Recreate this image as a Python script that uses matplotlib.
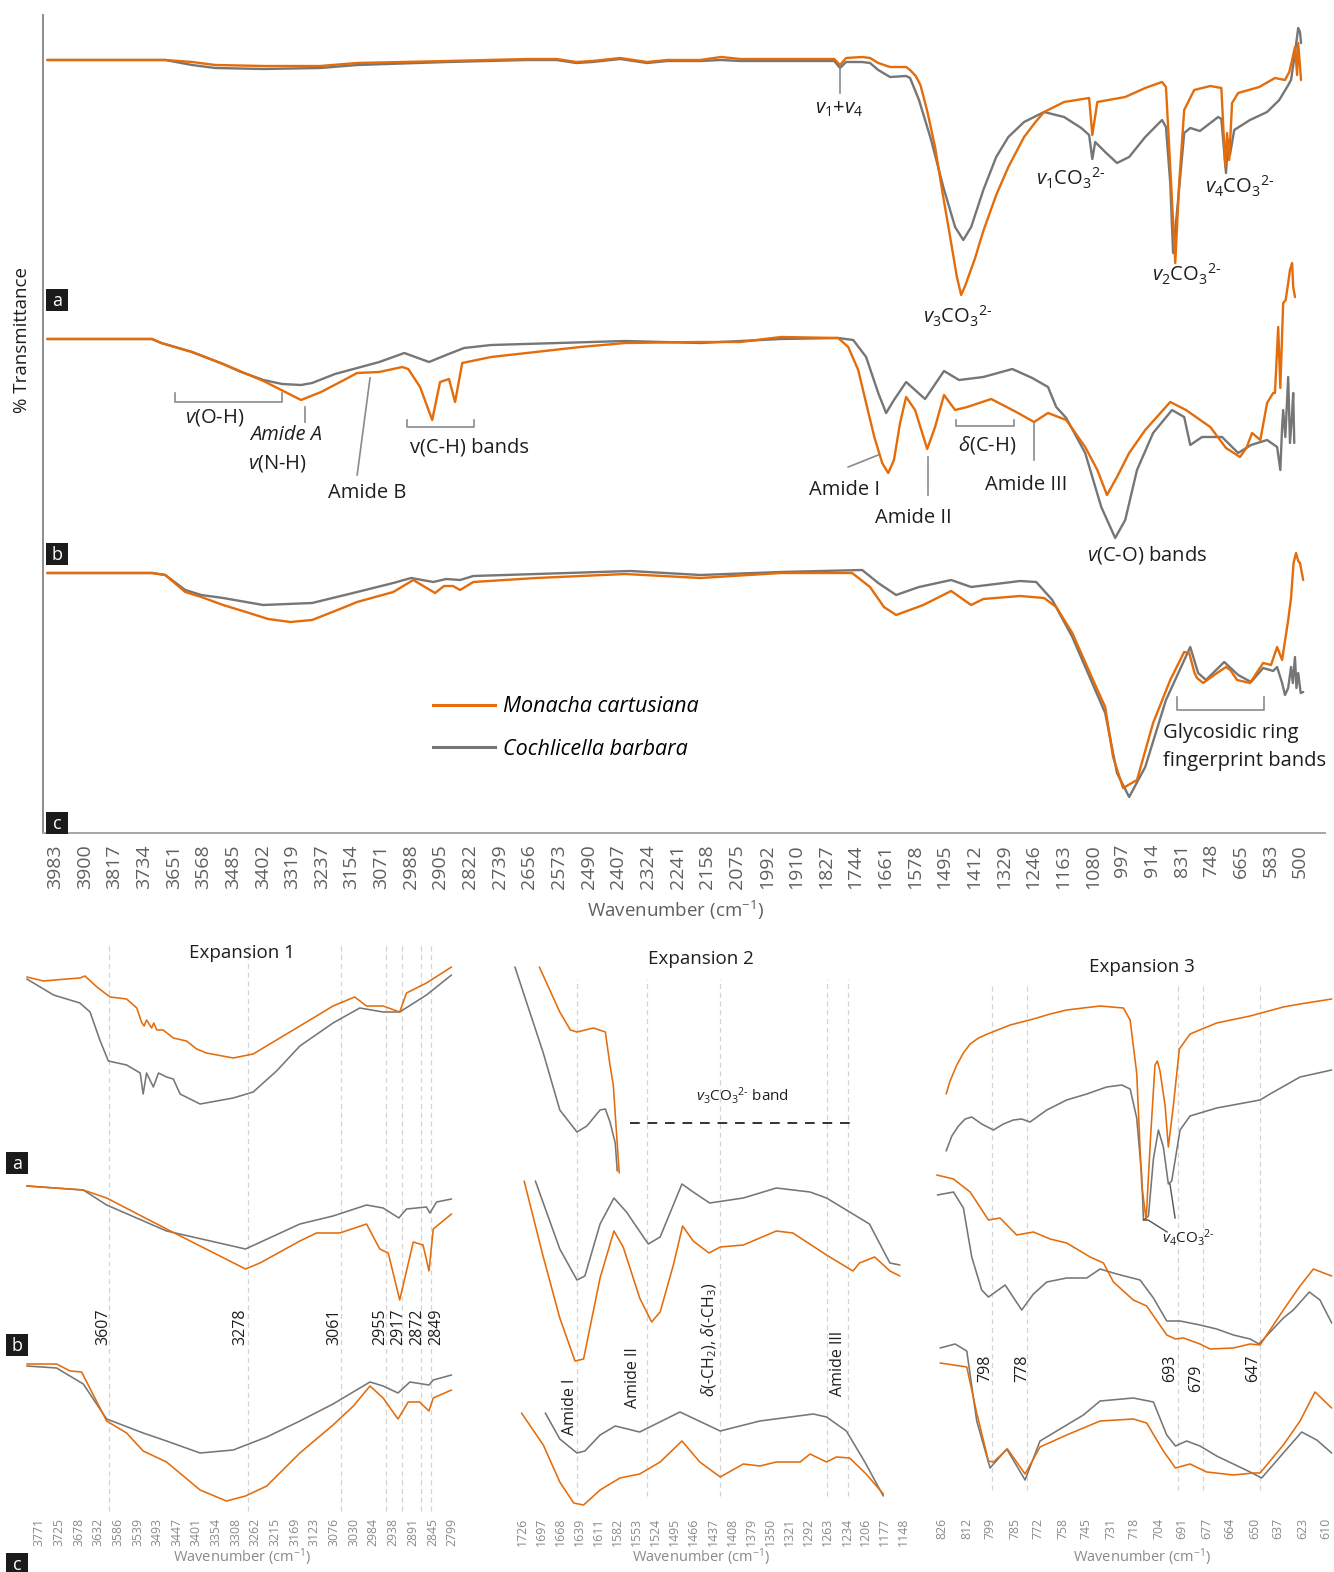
import matplotlib
matplotlib.use('Agg')
import matplotlib.pyplot as plt
from matplotlib.lines import Line2D
from matplotlib.patches import Rectangle

plt.rcParams['font.family'] = ['Open Sans', 'DejaVu Sans']
plt.rcParams['mathtext.fontset'] = 'custom'
plt.rcParams['mathtext.rm'] = 'Open Sans'
plt.rcParams['mathtext.it'] = 'Open Sans:italic'
plt.rcParams['mathtext.bf'] = 'Open Sans:bold'

# ---------------- DATA ----------------
SPECIES = ['Monacha cartusiana', 'Cochlicella barbara']

MAIN_TICKS = [3983, 3900, 3817, 3734, 3651, 3568, 3485, 3402, 3319, 3237, 3154, 3071,
              2988, 2905, 2822, 2739, 2656, 2573, 2490, 2407, 2324, 2241, 2158, 2075,
              1992, 1910, 1827, 1744, 1661, 1578, 1495, 1412, 1329, 1246, 1163, 1080,
              997, 914, 831, 748, 665, 583, 500]
EXP1_TICKS = [3771, 3725, 3678, 3632, 3586, 3539, 3493, 3447, 3401, 3354, 3308, 3262,
              3215, 3169, 3123, 3076, 3030, 2984, 2938, 2891, 2845, 2799]
EXP2_TICKS = [1726, 1697, 1668, 1639, 1611, 1582, 1553, 1524, 1495, 1466, 1437, 1408,
              1379, 1350, 1321, 1292, 1263, 1234, 1206, 1177, 1148]
EXP3_TICKS = [826, 812, 799, 785, 772, 758, 745, 731, 718, 704, 691, 677, 664, 650,
              637, 623, 610]

EXP1_BANDS = [3607, 3278, 3061, 2955, 2917, 2872, 2849]
EXP2_BANDS = [1643, 1537, 1426, 1265, 1232]
EXP3_BANDS = [798, 778, 693, 679, 647]

# main spectra: (wavenumber, relative transmittance with panel offsets)
MAIN_A_MC = [(4005,773),(3675,773),(3600,771),(3535,768),(3400,767),(3242,767),(3138,770),(2886,772),
             (2662,774),(2580,774),(2525,771),(2480,772),(2402,775),(2327,771),(2270,773),(2178,773),
             (2120,776),(2066,774),(1803,774),(1787,768),(1770,775),(1725,776),(1703,775),(1680,770),
             (1647,766),(1602,766),(1591,763),(1575,757),(1562,748),(1543,722),(1521,686),(1500,640),
             (1476,590),(1460,556),(1448,538),(1436,548),(1409,575),(1386,602),(1350,638),(1316,666),
             (1272,696),(1240,711),(1216,721),(1160,731),(1090,735),(1081,698),(1067,731),(989,736),
             (933,745),(886,751),(875,746),(863,666),(849,570),(838,650),(824,723),(796,743),(751,747),
             (720,745),(709,666),(704,700),(698,673),(690,730),(673,740),(614,746),(570,755),(542,753),
             (530,761),(522,773),(514,786),(508,758),(505,790),(497,753)]
MAIN_A_CB = [(4005,773),(3675,773),(3600,768),(3535,765),(3400,764),(3242,765),(3138,768),(2886,771),
             (2662,773),(2580,773),(2525,770),(2480,771),(2402,774),(2327,770),(2270,772),(2178,772),
             (2120,773),(2066,772),(1803,772),(1787,765),(1770,771),(1725,771),(1703,770),(1680,763),
             (1647,756),(1602,757),(1591,755),(1566,733),(1532,693),(1498,646),(1465,606),(1442,593),
             (1420,606),(1386,643),(1350,676),(1316,696),(1272,711),(1216,721),(1160,716),(1112,705),
             (1090,698),(1081,674),(1073,691),(1045,681),(1012,670),(978,676),(933,696),(886,713),
             (875,706),(863,650),(855,580),(841,633),(824,700),(807,705),(780,702),(729,716),(720,714),
             (707,660),(701,693),(696,678),(684,703),(640,713),(592,721),(558,733),(536,746),(525,753),
             (514,780),(505,805),(500,801),(497,790)]
MAIN_B_MC = [(4005,494),(3712,494),(3686,490),(3600,481),(3513,469),(3400,452),(3295,433),(3239,441),
             (3180,452),(3138,460),(3076,461),(3012,466),(2995,464),(2962,446),(2928,413),(2906,451),
             (2881,454),(2864,431),(2844,470),(2763,476),(2514,486),(2388,490),(2178,491),(2066,491),
             (1952,496),(1792,495),(1764,486),(1736,463),(1714,430),(1691,396),(1669,370),(1652,360),
             (1636,373),(1619,410),(1602,436),(1577,423),(1543,384),(1521,406),(1496,438),(1465,423),
             (1431,426),(1364,434),(1294,421),(1244,411),(1205,420),(1154,413),(1101,386),(1067,363),
             (1040,338),(1012,356),(978,380),(933,403),(863,431),(819,423),(751,406),(707,385),(668,376),
             (650,385),(634,400),(611,393),(592,430),(575,440),(570,440),(561,506),(555,445),(547,530),
             (540,533),(533,550),(528,563),(522,570),(519,546),(514,536)]
MAIN_B_CB = [(4005,494),(3712,494),(3686,490),(3600,481),(3513,469),(3463,461),(3400,453),(3348,449),
             (3295,448),(3264,450),(3200,459),(3076,471),(3006,480),(2937,471),(2889,478),(2839,485),
             (2763,488),(2388,492),(2178,490),(1952,494),(1792,495),(1750,493),(1714,476),(1680,440),
             (1658,420),(1636,433),(1602,451),(1549,434),(1496,462),(1454,453),(1386,456),(1305,464),
             (1249,455),(1205,446),(1182,426),(1154,415),(1101,380),(1056,326),(1017,295),(989,313),
             (956,363),(911,400),(858,423),(824,416),(807,388),(774,396),(718,396),(673,380),(637,388),
             (592,393),(564,386),(555,363),(550,406),(547,423),(541,396),(533,456),(528,390),(522,420),
             (519,440),(516,390)]
MAIN_C_MC = [(4005,260),(3712,260),(3675,258),(3619,241),(3574,236),(3513,228),(3449,221),(3387,214),
             (3325,211),(3264,213),(3200,222),(3138,231),(3037,241),(2981,253),(2920,240),(2895,247),
             (2870,247),(2850,243),(2813,251),(2637,255),(2388,259),(2178,255),(1952,260),(1753,260),
             (1703,246),(1664,226),(1630,218),(1554,228),(1476,242),(1420,228),(1386,234),(1283,237),
             (1216,235),(1182,226),(1137,200),(1079,153),(1045,126),(1023,76),(995,45),(956,53),(911,110),
             (863,153),(824,181),(810,180),(795,160),(788,155),(771,150),(732,160),(707,166),(695,163),
             (676,153),(640,150),(603,170),(581,168),(564,186),(550,173),(533,213),(525,235),(518,270),
             (511,280),(505,272),(500,270),(491,253)]
MAIN_C_CB = [(4005,260),(3712,260),(3675,258),(3619,243),(3574,238),(3513,235),(3401,228),(3264,230),
             (3138,241),(3037,250),(2987,255),(2925,251),(2889,254),(2850,253),(2813,257),(2637,259),
             (2374,262),(2178,258),(1952,261),(1725,263),(1680,250),(1630,238),(1566,246),(1476,253),
             (1420,246),(1283,252),(1238,251),(1193,233),(1137,196),(1045,120),(1012,60),(978,36),
             (933,66),(875,133),(807,186),(785,160),(763,153),(712,171),(673,158),(637,151),(603,165),
             (575,162),(564,166),(550,150),(542,138),(533,145),(525,166),(520,150),(514,176),(510,145),
             (505,160),(498,140),(491,141)]

# Expansion 1 (3800-2800 cm-1)
E1_A_MC = [(3800,538),(3761,534),(3706,536),(3675,537),(3663,539),(3635,528),(3604,518),(3565,516),
           (3541,507),(3530,493),(3524,489),(3518,495),(3506,487),(3501,492),(3494,485),(3479,485),
           (3455,477),(3424,474),(3400,466),(3377,462),(3314,457),(3267,461),(3212,475),(3157,489),
           (3110,501),(3079,509),(3028,518),(3000,509),(2961,509),(2922,503),(2906,522),(2859,532),
           (2800,548)]
E1_A_CB = [(3800,536),(3737,520),(3675,512),(3651,503),(3628,475),(3608,454),(3565,450),(3533,442),
           (3526,421),(3518,442),(3502,428),(3490,442),(3471,438),(3455,436),(3439,421),(3392,411),
           (3314,417),(3267,423),(3212,444),(3157,469),(3079,492),(3016,507),(2961,503),(2922,503),
           (2859,520),(2800,540)]
E1_B_MC = [(3800,329),(3667,325),(3612,317),(3471,286),(3285,246),(3251,252),(3157,274),(3118,282),
           (3063,282),(3000,291),(2969,266),(2949,262),(2922,215),(2890,273),(2867,270),(2853,244),
           (2843,286),(2800,301)]
E1_B_CB = [(3800,329),(3667,325),(3612,310),(3471,284),(3285,266),(3157,291),(3079,299),(3000,310),
           (2961,307),(2924,297),(2906,306),(2859,308),(2851,302),(2835,313),(2800,316)]
E1_C_MC = [(3800,151),(3730,151),(3698,144),(3671,143),(3612,94),(3565,82),(3526,64),(3471,53),
           (3392,25),(3330,14),(3285,19),(3235,29),(3157,62),(3079,90),(3031,109),(2992,129),
           (2961,117),(2926,96),(2902,113),(2875,113),(2853,104),(2843,117),(2800,125)]
E1_C_CB = [(3800,149),(3730,147),(3667,131),(3612,96),(3526,82),(3471,74),(3392,62),(3314,65),
           (3235,78),(3157,94),(3079,111),(2992,133),(2961,129),(2926,122),(2898,133),(2853,130),
           (2843,135),(2800,140)]

# Expansion 2 (1740-1150 cm-1)
E2_A_CB = [(1737,548),(1694,462),(1669,405),(1643,383),(1628,389),(1608,405),(1600,406),(1593,393),
           (1585,372),(1582,344)]
E2_A_MC = [(1700,548),(1669,503),(1653,485),(1643,483),(1618,487),(1600,483),(1593,450),(1588,430),
           (1583,381),(1579,342)]
E2_B_CB = [(1706,334),(1669,266),(1643,235),(1631,239),(1608,291),(1587,317),(1568,303),(1535,271),
           (1517,278),(1484,331),(1467,323),(1442,312),(1391,317),(1341,327),(1290,323),(1265,317),
           (1225,301),(1200,291),(1169,252),(1154,250)]
E2_B_MC = [(1723,334),(1694,258),(1669,197),(1646,154),(1633,156),(1608,237),(1587,284),(1573,268),
           (1548,217),(1530,193),(1517,203),(1497,250),(1483,289),(1467,274),(1443,262),(1426,268),
           (1391,270),(1341,284),(1316,282),(1265,260),(1225,244),(1215,252),(1192,258),(1169,244),
           (1154,239)]
E2_C_CB = [(1691,102),(1669,76),(1643,62),(1631,64),(1608,80),(1585,89),(1548,83),(1487,103),
           (1426,84),(1366,94),(1285,101),(1265,98),(1235,84),(1207,53),(1179,19)]
E2_C_MC = [(1727,102),(1694,70),(1669,33),(1648,12),(1633,10),(1608,25),(1578,37),(1548,41),
           (1517,53),(1484,74),(1457,53),(1426,38),(1391,51),(1366,49),(1341,53),(1305,53),
           (1290,61),(1265,53),(1250,58),(1230,57),(1205,41),(1179,21)]

# Expansion 3 (830-605 cm-1)
E3_A_MC = [(823.7,421),(821.5,434),(817.7,450),(814.0,462),(810.2,471),(805.5,477),(800.5,481),
           (787.7,490),(774.6,496),(765.2,501),(755.9,505),(737.1,509),(724.0,507),(720.2,495),
           (716.5,442),(713.7,331),(711.2,295),(708.6,381),(706.2,450),(704.9,454),(703.4,444),
           (700.5,409),(698.7,368),(695.9,409),(692.5,466),(686.5,481),(671.5,492),(652.7,499),
           (634.0,508),(624.6,511),(606.8,516)]
E3_A_CB = [(823.7,364),(820.5,379),(816.8,389),(813.0,396),(809.3,398),(803.7,391),(797.1,385),
           (791.5,391),(785.9,395),(781.2,396),(776.5,393),(767.1,405),(755.9,415),(744.6,421),
           (733.4,428),(724.9,430),(720.2,426),(716.5,397),(713.7,340),(712.7,295),(709.9,299),
           (707.1,356),(704.3,385),(701.5,368),(698.7,331),(696.8,334),(692.1,385),(686.5,399),
           (671.5,407),(647.1,415),(641.5,421),(624.6,438),(606.8,445)]
E3_B_MC = [(829.0,340),(819.6,336),(810.2,323),(799.9,295),(793.4,297),(784.0,280),(774.6,283),
           (765.2,276),(755.9,272),(742.7,258),(735.2,252),(729.6,233),(718.4,215),(710.9,209),
           (699.6,180),(694.7,176),(690.2,177),(680.9,171),(675.2,166),(662.1,167),(652.7,171),
           (647.1,170),(634.0,205),(624.6,229),(617.1,246),(606.8,239)]
E3_B_CB = [(828.6,320),(819.6,323),(814.0,307),(809.3,258),(803.7,225),(799.9,218),(790.5,230),
           (781.2,205),(774.6,221),(767.1,233),(755.9,237),(744.6,237),(737.1,246),(727.7,241),
           (714.6,235),(707.1,217),(699.6,194),(692.1,194),(680.9,190),(671.5,186),(662.1,180),
           (652.7,176),(647.7,171),(634.0,197),(628.4,205),(619.4,223),(613.4,215),(606.8,192)]
E3_C_CB = [(827.1,167),(818.7,171),(812.1,164),(806.5,94),(799.0,47),(789.6,66),(779.3,35),
           (770.9,74),(755.9,90),(746.5,100),(737.1,114),(718.4,117),(707.1,113),(699.6,80),
           (694.7,69),(688.4,74),(680.9,69),(671.5,59),(662.1,51),(652.7,43),(646.2,37),(634.0,62),
           (623.7,83),(615.2,75),(606.8,62)]
E3_C_MC = [(827.1,152),(812.1,148),(806.5,102),(799.9,54),(797.1,53),(789.2,66),(779.3,41),
           (770.9,68),(755.9,80),(737.1,94),(718.4,96),(710.9,92),(701.5,64),(694.7,47),(686.5,51),
           (677.1,43),(662.1,40),(650.9,42),(647.1,42),(634.0,70),(624.6,94),(616.2,123),(606.8,107)]

# ---------------- STYLE / LAYOUT ----------------
W, H = 1334, 1572
ORANGE = '#E46C0A'
GRAY = '#767676'
TICK_GRAY = '#5f5f5f'
LEAD = '#8a8a8a'
TXT = '#1e1e1e'
CO3 = r'CO$_3$$^{2\text{-}}$'

fig = plt.figure(figsize=(W / 100, H / 100), dpi=100)


def box(left, top, right, bottom):
    return [left / W, 1 - bottom / H, (right - left) / W, (bottom - top) / H]


def trace(ax, pts, color, lw):
    xs = [p[0] for p in pts]
    ys = [p[1] for p in pts]
    ax.plot(xs, ys, color=color, lw=lw, solid_joinstyle='round', solid_capstyle='round')


def letter(x0, y0, s, size=22):
    fig.add_artist(Rectangle((x0 / W, 1 - (y0 + size) / H), size / W, size / H,
                             transform=fig.transFigure, fc='#1b1b1b', ec='none'))
    fig.text((x0 + size / 2) / W, 1 - (y0 + size / 2 + 1) / H, s, color='white',
             fontsize=13, ha='center', va='center')


# ---------------- MAIN PANEL ----------------
ax = fig.add_axes(box(43, 15, 1325, 833))
ax.set_xlim(4017, 430)
ax.set_ylim(0, 818)
for pts_g, pts_o in [(MAIN_A_CB, MAIN_A_MC), (MAIN_B_CB, MAIN_B_MC), (MAIN_C_CB, MAIN_C_MC)]:
    trace(ax, pts_g, GRAY, 1.7)
    trace(ax, pts_o, ORANGE, 1.7)

for s in ['top', 'right']:
    ax.spines[s].set_visible(False)
ax.spines['left'].set_color('#8c8c8c')
ax.spines['left'].set_linewidth(1.4)
ax.spines['bottom'].set_color('#a6a6a6')
ax.spines['bottom'].set_linewidth(1.4)
ax.set_yticks([])
ax.set_xticks(MAIN_TICKS)
ax.set_xticklabels([str(t) for t in MAIN_TICKS], rotation=90, fontsize=14, color=TICK_GRAY)
ax.tick_params(axis='x', length=0, pad=8)

fig.text(675 / W, 1 - 910 / H, 'Wavenumber (cm$^{-1}$)', fontsize=13.5, color=TICK_GRAY,
         ha='center', va='center')
fig.text(22 / W, 1 - 340 / H, '% Transmittance', fontsize=13.5, color=TXT, rotation=90,
         ha='center', va='center')

AF = 14.5
# carbonate annotations (spectrum a)
ax.plot([1787, 1787], [765, 740], color=LEAD, lw=1.2)
ax.text(1790, 724, r'$v_1$+$v_4$', fontsize=AF, ha='center', va='center', color=TXT)
ax.text(1459, 517, r'$v_3$' + CO3, fontsize=AF, ha='center', va='center', color=TXT)
ax.text(1143, 655, r'$v_1$' + CO3, fontsize=AF, ha='center', va='center', color=TXT)
ax.text(816, 559, r'$v_2$' + CO3, fontsize=AF, ha='center', va='center', color=TXT)
ax.text(668, 647, r'$v_4$' + CO3, fontsize=AF, ha='center', va='center', color=TXT)

# organic annotations (spectrum b)
ax.plot([3647, 3647, 3348, 3348], [440, 431, 431, 440], color=LEAD, lw=1.2)
ax.text(3538, 415, r'$v$(O-H)', fontsize=AF, ha='center', va='center', color=TXT)
ax.plot([3283, 3283], [426, 411], color=LEAD, lw=1.2)
ax.text(3337, 398, 'Amide A', fontsize=AF, style='italic', ha='center', va='center', color=TXT)
ax.text(3362, 370, r'$v$(N-H)', fontsize=AF, ha='center', va='center', color=TXT)
ax.plot([3102, 3138], [455, 358], color=LEAD, lw=1.2)
ax.text(3110, 340, 'Amide B', fontsize=AF, ha='center', va='center', color=TXT)
ax.plot([2998, 2998, 2811, 2811], [413, 406, 406, 413], color=LEAD, lw=1.2)
ax.text(2825, 386, 'v(C-H) bands', fontsize=AF, ha='center', va='center', color=TXT)
ax.plot([1680, 1764], [378, 366], color=LEAD, lw=1.2)
ax.text(1775, 343, 'Amide I', fontsize=AF, ha='center', va='center', color=TXT)
ax.plot([1540, 1540], [376, 338], color=LEAD, lw=1.2)
ax.text(1582, 315, 'Amide II', fontsize=AF, ha='center', va='center', color=TXT)
ax.plot([1462, 1462, 1300, 1300], [413, 407, 407, 413], color=LEAD, lw=1.2)
ax.text(1375, 388, r'$\delta$(C-H)', fontsize=AF, ha='center', va='center', color=TXT)
ax.plot([1244, 1244], [410, 373], color=LEAD, lw=1.2)
ax.text(1266, 348, 'Amide III', fontsize=AF, ha='center', va='center', color=TXT)
ax.text(928, 278, r'$v$(C-O) bands', fontsize=AF, ha='center', va='center', color=TXT)

# spectrum c annotation
ax.plot([844, 844, 600, 600], [136, 123, 123, 136], color=LEAD, lw=1.2)
ax.text(883, 86, 'Glycosidic ring\nfingerprint bands', fontsize=AF, ha='left', va='center',
        color=TXT, linespacing=1.5)

# legend
handles = [Line2D([], [], color=ORANGE, lw=2.2), Line2D([], [], color=GRAY, lw=2.2)]
fig.legend(handles, SPECIES, loc='center left', bbox_to_anchor=(433 / W, 1 - 728 / H),
           frameon=False, prop={'style': 'italic', 'size': 15.5}, handlelength=2.9,
           handletextpad=0.35, labelspacing=0.98, borderpad=0, borderaxespad=0)

letter(46, 289, 'a')
letter(46, 543, 'b')
letter(46, 812, 'c')

# ---------------- EXPANSIONS ----------------
def expansion(rect, xlim, ticks, title, title_xy):
    e = fig.add_axes(box(*rect))
    e.set_xlim(*xlim)
    e.set_ylim(0, 575)
    for s in e.spines.values():
        s.set_visible(False)
    e.set_yticks([])
    e.set_xticks(ticks)
    e.set_xticklabels([str(t) for t in ticks], rotation=90, fontsize=8.8, color='#8a8a8a')
    e.tick_params(axis='x', length=0, pad=2)
    e.set_facecolor('none')
    fig.text(title_xy[0] / W, 1 - title_xy[1] / H, title, fontsize=13.5, color=TXT,
             ha='center', va='center')
    fig.text(title_xy[0] / W, 1 - 1557 / H, 'Wavenumber (cm$^{-1}$)', fontsize=10.5,
             color='#8a8a8a', ha='center', va='center')
    return e


DASH = dict(color='#d4d4d4', lw=0.9, ls=(0, (4, 3)))
ELW = 1.15

e1 = expansion((20, 940, 460, 1515), (3816, 2780), EXP1_TICKS, 'Expansion 1', (242, 953))
for b in EXP1_BANDS:
    e1.plot([b, b], [4, 569], **DASH)
for g, o in [(E1_A_CB, E1_A_MC), (E1_B_CB, E1_B_MC), (E1_C_CB, E1_C_MC)]:
    trace(e1, g, GRAY, ELW)
    trace(e1, o, ORANGE, ELW)
for b, dx in zip(EXP1_BANDS, [-5, -8, -6, -5, -4, -4, 6]):
    e1.annotate(str(b), (b, 188), xytext=(dx, 0), textcoords='offset pixels', rotation=90,
                fontsize=11.5, ha='center', va='center', color=TXT)

e2 = expansion((505, 940, 915, 1515), (1752, 1131), EXP2_TICKS, 'Expansion 2', (701, 959))
for b in EXP2_BANDS:
    e2.plot([b, b], [19, 536], **DASH)
for g, o in [(E2_A_CB, E2_A_MC), (E2_B_CB, E2_B_MC), (E2_C_CB, E2_C_MC)]:
    trace(e2, g, GRAY, ELW)
    trace(e2, o, ORANGE, ELW)
e2.plot([1563, 1222], [392, 392], color='#333333', lw=1.4, ls=(0, (5, 4)))
e2.text(1392, 420, r'$v_3$' + CO3 + ' band', fontsize=11, ha='center', va='center', color=TXT)
for txt, x, y in [('Amide I', 1653, 108), ('Amide II', 1558, 137),
                  (r'$\delta$(-CH$_2$), $\delta$(-CH$_3$)', 1442, 175), ('Amide III', 1248, 152)]:
    e2.text(x, y, txt, rotation=90, fontsize=11.5, ha='center', va='center', color=TXT)

e3 = expansion((925, 940, 1334, 1515), (835.6, 605.5), EXP3_TICKS, 'Expansion 3', (1142, 967))
for b in EXP3_BANDS:
    e3.plot([b, b], [25, 532], **DASH)
for g, o in [(E3_A_CB, E3_A_MC), (E3_B_CB, E3_B_MC), (E3_C_CB, E3_C_MC)]:
    trace(e3, g, GRAY, ELW)
    trace(e3, o, ORANGE, ELW)
e3.plot([712.7, 710.1, 699.4], [295, 295, 283], color='#555555', lw=1.0)
e3.plot([697.8, 694.9], [331, 297], color='#555555', lw=1.0)
e3.text(687.6, 278, r'$v_4$' + CO3, fontsize=11, ha='center', va='center', color=TXT)
for b, dx, y in zip(EXP3_BANDS, [-7, -5, -8, -7, -7], [147, 147, 147, 137, 147]):
    e3.annotate(str(b), (b, y), xytext=(dx, 0), textcoords='offset pixels', rotation=90,
                fontsize=11.5, ha='center', va='center', color=TXT)

letter(6, 1152, 'a')
letter(6, 1334, 'b')
letter(6, 1553, 'c')

fig.savefig('out.png', dpi=100)
